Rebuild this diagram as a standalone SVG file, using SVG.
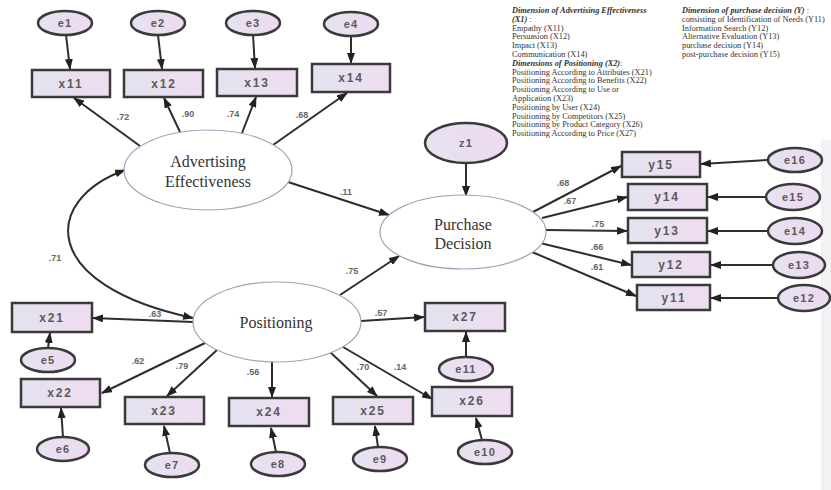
<svg xmlns="http://www.w3.org/2000/svg" width="831" height="490" viewBox="0 0 831 490">
<defs>
<linearGradient id="boxg" x1="0" y1="0" x2="1" y2="0">
<stop offset="0" stop-color="#e4e3ef"/><stop offset="1" stop-color="#efdcf0"/>
</linearGradient>
<linearGradient id="errg" x1="0" y1="0" x2="1" y2="0">
<stop offset="0" stop-color="#e6e2f0"/><stop offset="1" stop-color="#eedaf0"/>
</linearGradient>
<marker id="ah" markerUnits="userSpaceOnUse" markerWidth="11" markerHeight="8" refX="10" refY="4" orient="auto-start-reverse">
<path d="M0,0 L11,4 L0,8 z" fill="#222"/>
</marker>
<style>
.box{fill:url(#boxg);stroke:#3a3a3a;stroke-width:2.5}
.err{fill:url(#errg);stroke:#3a3a3a;stroke-width:2.5}
.lat{fill:#fff;stroke:#98a8ba;stroke-width:1.2}
.nt{font-family:"Liberation Sans",Arial,sans-serif;font-size:12px;font-weight:bold;fill:#5a5a5a;text-anchor:middle;letter-spacing:1.8px}
.et{font-family:"Liberation Sans",Arial,sans-serif;font-size:11px;font-weight:bold;fill:#5a5a5a;text-anchor:middle;letter-spacing:1.2px}
.lt{font-family:"Liberation Serif","Times New Roman",serif;font-size:16px;fill:#333;text-anchor:middle}
.c{fill:none;stroke:#2e2e2e;stroke-width:2;marker-end:url(#ah)}
.lbl{font-family:"Liberation Sans",Arial,sans-serif;font-size:9px;font-weight:bold;fill:#666;text-anchor:middle}
.lg{font-family:"Liberation Serif","Times New Roman",serif;font-size:8.3px;fill:#333}
.lgb{font-weight:bold;font-style:italic}
</style>
</defs>
<rect width="831" height="490" fill="#fff"/>
<rect x="821" y="140" width="10" height="350" fill="#f2f2f4"/>

<g id="legend">
<text class="lg" x="512" y="13"><tspan class="lgb">Dimension of Advertising Effectiveness</tspan></text>
<text class="lg" x="512" y="22"><tspan class="lgb">(X1)</tspan> :</text>
<text class="lg" x="512" y="31">Empathy (X11)</text>
<text class="lg" x="512" y="39">Persuasion (X12)</text>
<text class="lg" x="512" y="48">Impact (X13)</text>
<text class="lg" x="512" y="57">Communication (X14)</text>
<text class="lg" x="512" y="66"><tspan class="lgb">Dimensions of Positioning (X2)</tspan>:</text>
<text class="lg" x="512" y="75">Positioning According to Attributes (X21)</text>
<text class="lg" x="512" y="83">Positioning According to Benefits (X22)</text>
<text class="lg" x="512" y="92">Positioning According to Use or</text>
<text class="lg" x="512" y="101">Application (X23)</text>
<text class="lg" x="512" y="110">Positioning by User (X24)</text>
<text class="lg" x="512" y="119">Positioning by Competitors (X25)</text>
<text class="lg" x="512" y="127">Positioning by Product Category (X26)</text>
<text class="lg" x="512" y="136">Positioning According to Price (X27)</text>
<text class="lg" x="682" y="13"><tspan class="lgb">Dimension of purchase decision (Y)</tspan> :</text>
<text class="lg" x="682" y="22">consisting of Identification of Needs (Y11)</text>
<text class="lg" x="682" y="31">Information Search (Y12)</text>
<text class="lg" x="682" y="39">Alternative Evaluation (Y13)</text>
<text class="lg" x="682" y="48">purchase decision (Y14)</text>
<text class="lg" x="682" y="57">post-purchase decision (Y15)</text>
</g>

<g id="connectors">
<path class="c" d="M66,35 L70,69"/>
<path class="c" d="M158,35 L162,69"/>
<path class="c" d="M253,35 L255,68"/>
<path class="c" d="M351,36 L351,63"/>
<path class="c" d="M140,146 L74,98"/>
<path class="c" d="M180,132 L164,98"/>
<path class="c" d="M242,133 L256,97"/>
<path class="c" d="M273,145 L347,93"/>
<path class="c" d="M288,182 L389,215"/>
<path class="c" d="M340,295 L399,256"/>
<path class="c" d="M466,163 L466,196"/>
<path class="c" d="M533,212 L621,166"/>
<path class="c" d="M542,218 L627,197"/>
<path class="c" d="M546,230 L627,231"/>
<path class="c" d="M540,243 L631,265"/>
<path class="c" d="M532,252 L636,296"/>
<path class="c" d="M768,160 L701,164"/>
<path class="c" d="M766,197 L708,197"/>
<path class="c" d="M768,231 L708,231"/>
<path class="c" d="M772,265 L711,265"/>
<path class="c" d="M777,298 L711,298"/>
<path class="c" d="M193,322 L93,318"/>
<path class="c" d="M205,343 L102,393"/>
<path class="c" d="M217,350 L167,396"/>
<path class="c" d="M272,362 L272,397"/>
<path class="c" d="M330,352 L377,396"/>
<path class="c" d="M343,347 L432,399"/>
<path class="c" d="M361,321 L424,317"/>
<path class="c" d="M48,348 L50,333"/>
<path class="c" d="M63,437 L61,408"/>
<path class="c" d="M170,453 L164,426"/>
<path class="c" d="M276,452 L271,428"/>
<path class="c" d="M378,447 L375,426"/>
<path class="c" d="M482,440 L476,418"/>
<path class="c" d="M466,357 L466,332"/>
<path class="c" d="M125,170 C42,200 38,285 193,318" style="marker-start:url(#ah)"/>
<text class="lbl" x="123" y="120">.72</text>
<text class="lbl" x="188" y="117">.90</text>
<text class="lbl" x="233" y="117">.74</text>
<text class="lbl" x="302" y="118">.68</text>
<text class="lbl" x="346" y="195">.11</text>
<text class="lbl" x="55" y="261">.71</text>
<text class="lbl" x="352" y="274">.75</text>
<text class="lbl" x="563" y="186">.68</text>
<text class="lbl" x="570" y="204">.67</text>
<text class="lbl" x="598" y="227">.75</text>
<text class="lbl" x="597" y="250">.66</text>
<text class="lbl" x="597" y="270">.61</text>
<text class="lbl" x="155" y="317">.63</text>
<text class="lbl" x="381" y="316">.57</text>
<text class="lbl" x="138" y="364">.62</text>
<text class="lbl" x="182" y="369">.79</text>
<text class="lbl" x="253" y="375">.56</text>
<text class="lbl" x="363" y="370">.70</text>
<text class="lbl" x="400" y="370">.14</text>
</g>

<g id="e1"><ellipse class="err" cx="65" cy="23" rx="27" ry="12"/><text class="et" x="65" y="27">e1</text></g>
<g id="e2"><ellipse class="err" cx="158" cy="23" rx="27" ry="12"/><text class="et" x="158" y="27">e2</text></g>
<g id="e3"><ellipse class="err" cx="253" cy="23" rx="27" ry="12"/><text class="et" x="253" y="27">e3</text></g>
<g id="e4"><ellipse class="err" cx="351" cy="24" rx="27" ry="12"/><text class="et" x="351" y="28">e4</text></g>

<g id="x11"><rect class="box" x="32" y="70" width="78" height="27"/><text class="nt" x="71" y="88">x11</text></g>
<g id="x12"><rect class="box" x="124" y="70" width="79" height="27"/><text class="nt" x="164" y="88">x12</text></g>
<g id="x13"><rect class="box" x="217" y="69" width="80" height="27"/><text class="nt" x="257" y="87">x13</text></g>
<g id="x14"><rect class="box" x="312" y="64" width="78" height="28"/><text class="nt" x="351" y="82">x14</text></g>

<g id="adv"><ellipse class="lat" cx="208" cy="170" rx="84" ry="40"/><text class="lt" x="208" y="167">Advertising</text><text class="lt" x="208" y="187">Effectiveness</text></g>
<g id="z1"><ellipse class="err" cx="466" cy="143" rx="41" ry="20"/><text class="et" x="466" y="147">z1</text></g>
<g id="pd"><ellipse class="lat" cx="463" cy="232" rx="83" ry="37"/><text class="lt" x="463" y="230">Purchase</text><text class="lt" x="463" y="249">Decision</text></g>
<g id="pos"><ellipse class="lat" cx="277" cy="322" rx="84" ry="40"/><text class="lt" x="276" y="328">Positioning</text></g>

<g id="y15"><rect class="box" x="622" y="152" width="78" height="25"/><text class="nt" x="661" y="169">y15</text></g>
<g id="y14"><rect class="box" x="628" y="184" width="79" height="26"/><text class="nt" x="667" y="201">y14</text></g>
<g id="y13"><rect class="box" x="628" y="218" width="79" height="25"/><text class="nt" x="667" y="235">y13</text></g>
<g id="y12"><rect class="box" x="632" y="252" width="78" height="25"/><text class="nt" x="671" y="269">y12</text></g>
<g id="y11"><rect class="box" x="637" y="285" width="73" height="25"/><text class="nt" x="674" y="302">y11</text></g>

<g id="e16"><ellipse class="err" cx="795" cy="160" rx="27" ry="12"/><text class="et" x="795" y="164">e16</text></g>
<g id="e15"><ellipse class="err" cx="793" cy="197" rx="27" ry="13"/><text class="et" x="793" y="201">e15</text></g>
<g id="e14"><ellipse class="err" cx="795" cy="231" rx="27" ry="13"/><text class="et" x="795" y="235">e14</text></g>
<g id="e13"><ellipse class="err" cx="799" cy="265" rx="26" ry="13"/><text class="et" x="799" y="269">e13</text></g>
<g id="e12"><ellipse class="err" cx="804" cy="298" rx="26" ry="13"/><text class="et" x="804" y="302">e12</text></g>

<g id="x21"><rect class="box" x="12" y="303" width="80" height="29"/><text class="nt" x="52" y="322">x21</text></g>
<g id="x22"><rect class="box" x="21" y="379" width="79" height="28"/><text class="nt" x="60" y="397">x22</text></g>
<g id="x23"><rect class="box" x="125" y="397" width="79" height="27"/><text class="nt" x="164" y="415">x23</text></g>
<g id="x24"><rect class="box" x="229" y="398" width="80" height="28"/><text class="nt" x="269" y="416">x24</text></g>
<g id="x25"><rect class="box" x="333" y="397" width="80" height="27"/><text class="nt" x="373" y="415">x25</text></g>
<g id="x26"><rect class="box" x="432" y="387" width="80" height="29"/><text class="nt" x="472" y="405">x26</text></g>
<g id="x27"><rect class="box" x="425" y="303" width="80" height="28"/><text class="nt" x="465" y="321">x27</text></g>

<g id="e5"><ellipse class="err" cx="48" cy="360" rx="27" ry="12"/><text class="et" x="48" y="364">e5</text></g>
<g id="e6"><ellipse class="err" cx="63" cy="449" rx="26" ry="12"/><text class="et" x="63" y="453">e6</text></g>
<g id="e7"><ellipse class="err" cx="172" cy="465" rx="27" ry="12"/><text class="et" x="172" y="469">e7</text></g>
<g id="e8"><ellipse class="err" cx="278" cy="464" rx="27" ry="12"/><text class="et" x="278" y="468">e8</text></g>
<g id="e9"><ellipse class="err" cx="380" cy="459" rx="27" ry="12"/><text class="et" x="380" y="463">e9</text></g>
<g id="e10"><ellipse class="err" cx="485" cy="452" rx="27" ry="12"/><text class="et" x="485" y="456">e10</text></g>
<g id="e11"><ellipse class="err" cx="466" cy="369" rx="27" ry="12"/><text class="et" x="466" y="373">e11</text></g>
</svg>
